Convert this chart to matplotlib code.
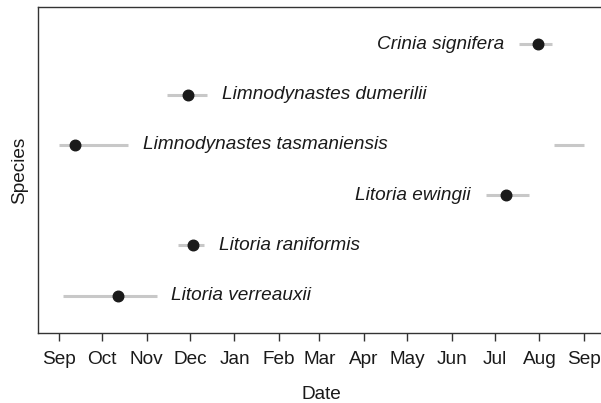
import datetime as dt
import matplotlib
matplotlib.use("Agg")
import matplotlib.pyplot as plt
import matplotlib.dates as mdates

plt.rcParams["font.family"] = ["Liberation Sans", "DejaVu Sans"]

# breeding season runs Sep to Sep
season = ["2017-09-01", "2018-09-01"]

species = ["Crinia signifera", "Limnodynastes dumerilii", "Limnodynastes tasmaniensis",
           "Litoria ewingii", "Litoria raniformis", "Litoria verreauxii"]
peak = ["2018-07-31", "2017-11-30", "2017-09-12", "2018-07-09", "2017-12-03", "2017-10-12"]
start = ["2018-07-18", "2017-11-15", "2018-08-11", "2018-06-25", "2017-11-23", "2017-09-04"]
end = ["2018-08-10", "2017-12-13", "2017-10-19", "2018-07-25", "2017-12-11", "2017-11-08"]
label_side = ["left", "right", "right", "left", "right", "right"]

d = lambda s: dt.datetime.strptime(s, "%Y-%m-%d")
s0, s1 = d(season[0]), d(season[1])

fig = plt.figure(figsize=(6.01, 4.03), dpi=100)
ax = fig.add_axes([38/601, 70/403, 567/601, 326/403])

n = len(species)
for i, sp in enumerate(species):
    y = n - i
    lo, hi, pk = d(start[i]), d(end[i]), d(peak[i])
    if lo > hi:
        # interval wraps round the end of the season
        ax.plot([s0, hi], [y, y], color="#c8c8c8", lw=2.2, solid_capstyle="butt", zorder=1)
        ax.plot([lo, s1], [y, y], color="#c8c8c8", lw=2.2, solid_capstyle="butt", zorder=1)
    else:
        ax.plot([lo, hi], [y, y], color="#c8c8c8", lw=2.2, solid_capstyle="butt", zorder=1)
    ax.plot(pk, y, "o", color="#1a1a1a", ms=7.6, zorder=2)
    if label_side[i] == "right":
        ax.annotate(sp, xy=(mdates.date2num(hi), y), xytext=(10.5, 0), textcoords="offset points",
                    ha="left", va="center", fontsize=13.7, style="italic", color="#1a1a1a")
    else:
        ax.annotate(sp, xy=(mdates.date2num(lo), y), xytext=(-11, 0), textcoords="offset points",
                    ha="right", va="center", fontsize=13.7, style="italic", color="#1a1a1a")

span = (s1 - s0) * 0.04
ax.set_xlim(s0 - span, s1 + span)
ax.set_ylim(0.26, 6.74)

ax.xaxis.set_major_locator(mdates.MonthLocator())
ax.xaxis.set_major_formatter(mdates.DateFormatter("%b"))
ax.set_yticks([])
ax.tick_params(axis="x", length=6, width=1, color="#333333", pad=7, labelsize=13.7, labelcolor="#1a1a1a")

for sp in ax.spines.values():
    sp.set_color("#333333")
    sp.set_linewidth(1)

ax.set_xlabel("Date", fontsize=13.7, color="#1a1a1a", labelpad=13)
ax.set_ylabel("Species", fontsize=13.7, color="#1a1a1a", labelpad=7)

fig.savefig("out.png", dpi=100)
